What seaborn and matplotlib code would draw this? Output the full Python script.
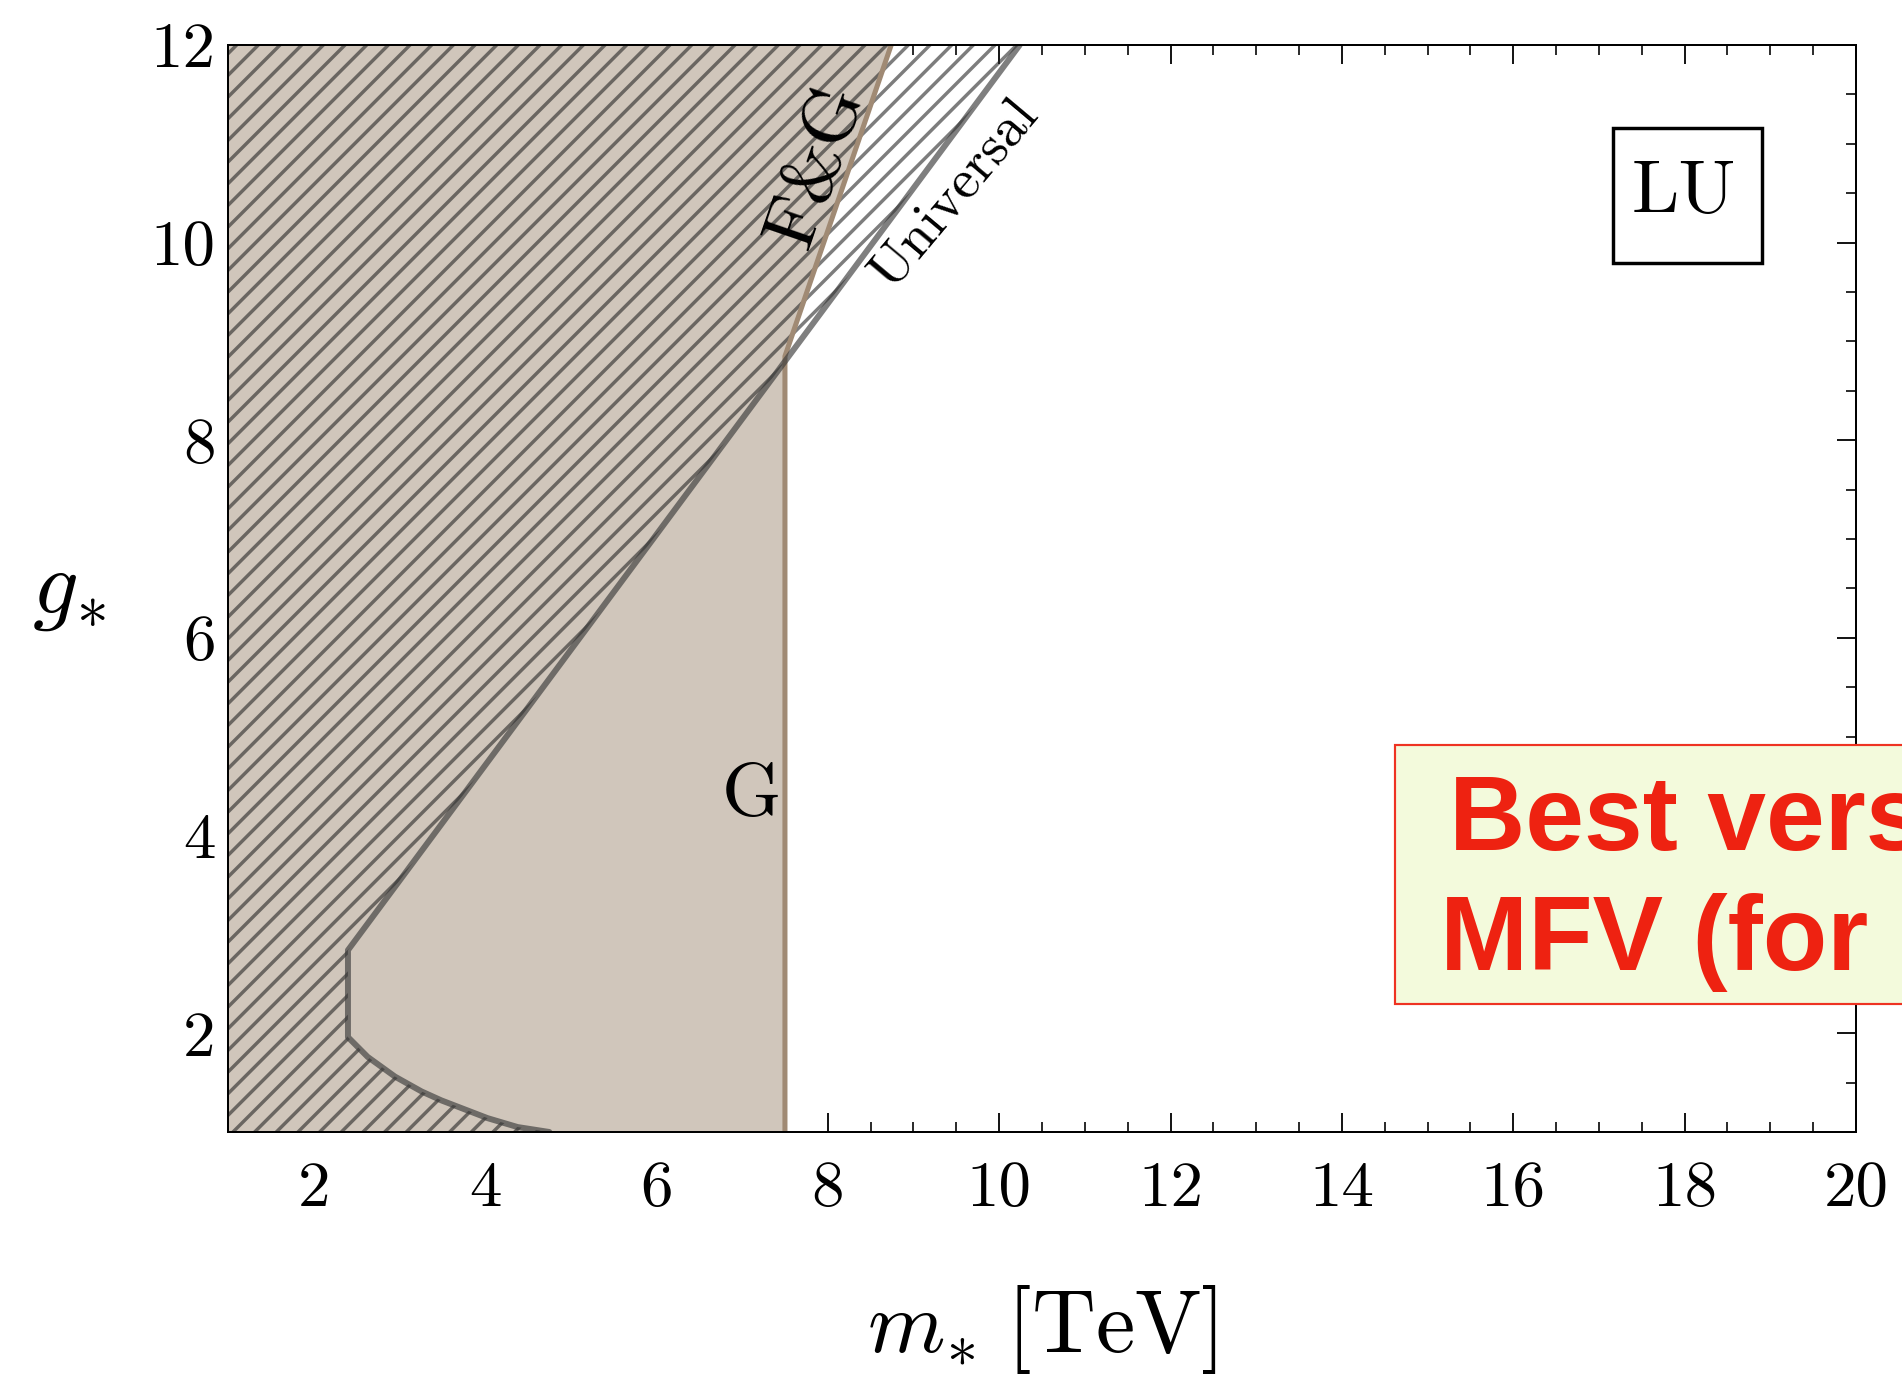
import numpy as np
import pandas as pd
import matplotlib
matplotlib.use("Agg")
import matplotlib.pyplot as plt
from matplotlib.patches import Rectangle
from matplotlib.ticker import MultipleLocator
import seaborn as sns

# ---------------- data ----------------
universal_m = [4.75, 4.38, 4.03, 3.49, 3.26, 2.95, 2.63, 2.40, 2.40, 10.24]
universal_g = [1.00, 1.05, 1.14, 1.32, 1.41, 1.56, 1.76, 1.96, 2.84, 12.00]
fg_m = [7.50, 7.50, 8.74]
fg_g = [1.00, 8.85, 12.00]
x_ticks = [2, 4, 6, 8, 10, 12, 14, 16, 18, 20]
y_ticks = [2, 4, 6, 8, 10, 12]
x_limits = [1, 20]
y_limits = [1, 12]
region_labels = ["F&G", "Universal", "G"]
panel_label = "LU"
banner_lines = ["Best version of", "MFV (for quarks)"]
x_label = r"$m_{\!*}\,[\mathrm{TeV}]$"
y_label = r"$g_{\!*}$"

# ---------------- style ----------------
DPI = 130
W, H = 1902, 1375
sns.set_theme(style="ticks")
plt.rcParams["font.family"] = ["cmr10", "DejaVu Sans"]
plt.rcParams["mathtext.fontset"] = "cm"
plt.rcParams["axes.formatter.use_mathtext"] = True
plt.rcParams["hatch.linewidth"] = 1.9

fig = plt.figure(figsize=(W / DPI, H / DPI), dpi=DPI)
fig.patch.set_facecolor("white")
ax = fig.add_axes([228 / W, 1 - 1132 / H, (1856 - 228) / W, (1132 - 45) / H])
ax.set_facecolor("white")

brown = "#d0c6bb"
ax.fill_betweenx(fg_g, x_limits[0], fg_m, facecolor=brown, edgecolor="none",
                 lw=0, zorder=1)
ax.fill_betweenx(universal_g, x_limits[0], universal_m, facecolor="none",
                 edgecolor=(0.15, 0.15, 0.15, 0.6), lw=0, hatch="//", zorder=2)
sns.lineplot(x=fg_m, y=fg_g, sort=False, estimator=None, color="#a08a74",
             lw=2.8, ax=ax, zorder=3)
sns.lineplot(x=universal_m, y=universal_g, sort=False, estimator=None,
             color="#3a3a3a", alpha=0.65, lw=3.3, ax=ax, zorder=4)

ax.set_xlim(*x_limits)
ax.set_ylim(*y_limits)
ax.set_xticks(x_ticks)
ax.set_yticks(y_ticks)
ax.set_xticklabels([str(t) for t in x_ticks])
ax.set_yticklabels([str(t) for t in y_ticks])
ax.xaxis.set_minor_locator(MultipleLocator(0.5))
ax.yaxis.set_minor_locator(MultipleLocator(0.5))
ax.tick_params(which="both", direction="in", top=True, right=True,
               color="black", labelcolor="black")
ax.tick_params(which="major", length=10.5, width=1.0, labelsize=36)
ax.tick_params(which="minor", length=5.8, width=0.9)
ax.tick_params(axis="x", which="major", pad=16)
ax.tick_params(axis="y", which="major", pad=7)
for s in ax.spines.values():
    s.set_visible(True)
    s.set_color("black")
    s.set_linewidth(1.1)
    s.set_zorder(6)

ax.set_xlabel(x_label, fontsize=49, color="black")
ax.xaxis.set_label_coords(0.5, (1132 - 1352) / 1087)
ax.xaxis.label.set_va("baseline")
ax.set_ylabel(y_label, fontsize=50, rotation=0, color="black")
ax.yaxis.set_label_coords((69 - 228) / 1628, (1132 - 613) / 1087)
ax.yaxis.label.set_ha("center")
ax.yaxis.label.set_va("baseline")

ax.text(7.88, 10.78, region_labels[0], rotation=71, ha="center", va="center",
        fontsize=42, color="black", zorder=7)
ax.text(9.49, 10.49, region_labels[1], rotation=50, ha="center", va="center",
        fontsize=31, color="black", zorder=7)
ax.text(7.11, 4.21, region_labels[2], ha="center", va="baseline",
        fontsize=42, color="black", zorder=7)
ax.add_patch(Rectangle((17.16, 9.79), 1.74, 1.37, fill=False,
                       edgecolor="black", lw=1.9, zorder=7))
ax.text(17.99, 10.30, panel_label, ha="center", va="baseline",
        fontsize=42, color="black", zorder=7)

# overlay banner (cut by the right edge of the slide)
fig.add_artist(Rectangle((1395 / W, 1 - 1004 / H), (2100 - 1395) / W,
                         (1004 - 745) / H, transform=fig.transFigure,
                         facecolor="#f3fadc", edgecolor="#ee3322", lw=1.2,
                         zorder=10))
fig.text(1449 / W, 1 - 850 / H, banner_lines[0], color="#ee2211",
         fontsize=58.5, fontweight="bold", family="Liberation Sans",
         ha="left", va="baseline", zorder=11)
fig.text(1440 / W, 1 - 970 / H, banner_lines[1], color="#ee2211",
         fontsize=58.5, fontweight="bold", family="Liberation Sans",
         ha="left", va="baseline", zorder=11)

fig.savefig("out.png", dpi=DPI)
